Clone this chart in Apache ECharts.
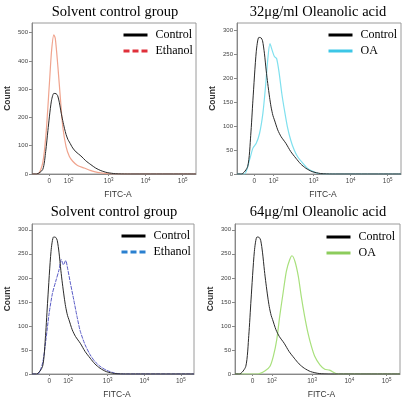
<!DOCTYPE html>
<html><head><meta charset="utf-8">
<script src="https://cdn.jsdelivr.net/npm/echarts@6/dist/echarts.min.js"></script>
<style>html,body{margin:0;padding:0;background:#fff}#c{width:411px;height:405px}</style>
</head><body><div id="c"></div>
<script>
const titles = ['Solvent control group', '32\u03bcg/ml Oleanolic acid', 'Solvent control group', '64\u03bcg/ml Oleanolic acid'];
const xTickPos = [1.40, 1.92, 3, 4, 5];
const xTickLabels = ['0', '10{s|2}', '10{s|3}', '10{s|4}', '10{s|5}'];
const yTicks500 = [0, 100, 200, 300, 400, 500];
const yTicks300 = [0, 50, 100, 150, 200, 250, 300];
const yMax = [534, 315, 312, 312];

const control = [[0.93,0],[1.05,0],[1.22,16],[1.30,80],[1.36,154],[1.45,255],[1.52,285],[1.58,284],[1.62,278],[1.67,252],[1.72,215],[1.76,189],[1.81,160],[1.85,140],[1.90,122],[1.94,113],[2.03,92],[2.12,78],[2.25,64],[2.38,47],[2.52,33],[2.65,21],[2.79,12],[2.96,5],[3.19,1],[3.50,0],[5.36,0]];
const ethanolRed = [[0.93,0],[1.09,0],[1.22,39],[1.31,144],[1.40,320],[1.46,438],[1.52,492],[1.56,479],[1.63,379],[1.70,262],[1.76,168],[1.85,97],[1.94,62],[2.03,45],[2.16,30],[2.34,21],[2.52,12],[2.70,6],[2.96,1],[3.14,0],[5.36,0]];
const oa32 = [[0.93,0],[1.13,0],[1.27,30],[1.36,54],[1.45,64],[1.54,85],[1.63,127],[1.70,182],[1.76,238],[1.82,272],[1.88,258],[1.94,245],[2.00,241],[2.07,210],[2.14,168],[2.21,134],[2.29,99],[2.38,71],[2.47,51],[2.56,37],[2.70,23],[2.83,12],[2.96,6],[3.14,1],[3.32,0],[5.36,0]];
const ethanolBlue = [[0.93,0],[1.09,0],[1.22,23],[1.31,71],[1.40,127],[1.49,168],[1.58,193],[1.67,217],[1.73,238],[1.79,227],[1.85,236],[1.91,217],[1.98,189],[2.07,155],[2.16,120],[2.25,89],[2.38,61],[2.52,40],[2.65,26],[2.79,16],[2.96,8],[3.19,2],[3.37,0],[5.36,0]];
const oa64 = [[0.93,0],[1.55,0],[1.73,6],[1.87,16],[1.96,37],[2.05,71],[2.13,120],[2.22,168],[2.31,214],[2.40,238],[2.46,246],[2.54,234],[2.63,203],[2.71,161],[2.80,120],[2.89,85],[2.98,58],[3.07,37],[3.21,19],[3.34,10],[3.47,8],[3.61,2],[3.70,0],[5.36,0]];

const grids = [
  {left: 32, top: 23, width: 164, height: 151},
  {left: 237, top: 23, width: 164, height: 151},
  {left: 32, top: 224, width: 162, height: 150},
  {left: 235, top: 224, width: 165, height: 150}
];
const titleX = [115, 318, 114, 318];
const titleY = [5, 5, 205, 205];
const legendPos = [[122, 29], [327, 29], [120, 230], [325, 231]];

const panels = [
  {second: 'Ethanol', data: ethanolRed, curve: {color: '#f0a48e', width: 1.2}, legend: {color: '#e0303a', width: 3, type: [6, 3]}},
  {second: 'OA', data: oa32, curve: {color: '#7fe0ee', width: 1.2}, legend: {color: '#3cc6e6', width: 3, type: 'solid'}},
  {second: 'Ethanol', data: ethanolBlue, curve: {color: '#5a5cc6', width: 1, type: [4, 1]}, legend: {color: '#2a80d0', width: 3, type: [6, 3]}},
  {second: 'OA', data: oa64, curve: {color: '#a8e07c', width: 1.2}, legend: {color: '#8ccc5c', width: 3, type: 'solid'}}
];

const serif = 'Liberation Serif';
const sans = 'Liberation Sans';
const hidden = {color: 'rgba(0,0,0,0)', borderWidth: 0, borderColor: 'rgba(0,0,0,0)'};
const option = {
  backgroundColor: '#fff',
  animation: false,
  title: titles.map((t, i) => ({
    text: t, left: titleX[i], top: titleY[i], textAlign: 'center', padding: 0,
    textStyle: {fontFamily: serif, fontWeight: 'normal', fontSize: 14.5, color: '#000'}
  })),
  grid: grids.map(g => Object.assign({show: true, borderColor: '#9a9a9a', borderWidth: 1, containLabel: false}, g)),
  xAxis: grids.map((g, i) => ({
    type: 'value', gridIndex: i, min: 0.93, max: 5.36,
    name: 'FITC-A', nameLocation: 'middle', nameGap: 16,
    nameTextStyle: {fontFamily: sans, fontSize: 8.5, color: '#333', padding: [0, 0, 0, 8]},
    axisLine: {show: true, lineStyle: {color: '#888', width: 1}},
    axisTick: {show: true, length: 2, lineStyle: {color: '#888'}, customValues: xTickPos},
    axisLabel: {customValues: xTickPos,
      formatter: v => { const k = xTickPos.findIndex(p => Math.abs(p - v) < 1e-6); return k >= 0 ? xTickLabels[k] : ''; },
      fontFamily: sans, fontSize: 6.5, color: '#444', margin: 3, lineHeight: 9,
      rich: {s: {fontFamily: sans, fontSize: 4.5, color: '#444', verticalAlign: 'top', lineHeight: 9, padding: [0, 0, 3, 0]}}},
    splitLine: {show: false}
  })),
  yAxis: grids.map((g, i) => ({
    type: 'value', gridIndex: i, min: 0, max: yMax[i],
    name: 'Count', nameLocation: 'middle', nameGap: 20,
    nameTextStyle: {fontFamily: sans, fontSize: 8.5, fontWeight: 'bold', color: '#333'},
    axisLine: {show: true, lineStyle: {color: '#888', width: 1}},
    axisTick: {show: true, length: 3, lineStyle: {color: '#888'}, customValues: i === 0 ? yTicks500 : yTicks300},
    axisLabel: {customValues: i === 0 ? yTicks500 : yTicks300, fontFamily: sans, fontSize: 6, color: '#444', margin: 4},
    splitLine: {show: false}
  })),
  legend: panels.map((p, i) => ({
    orient: 'vertical', left: legendPos[i][0], top: legendPos[i][1], padding: 0,
    itemWidth: 24, itemHeight: 12, itemGap: 4, selectedMode: false,
    textStyle: {fontFamily: serif, fontSize: 12, color: '#000', padding: [0, 0, 0, 3]},
    data: [
      {name: 'Control', lineStyle: {color: '#000', width: 3, type: 'solid'}, itemStyle: hidden},
      {name: p.second, lineStyle: p.legend, itemStyle: hidden}
    ]
  })),
  series: []
};
panels.forEach((p, i) => {
  option.series.push({
    name: p.second, type: 'line', xAxisIndex: i, yAxisIndex: i, data: p.data,
    symbol: 'none', smooth: 0.25, lineStyle: Object.assign({}, p.curve), itemStyle: {color: p.legend.color}, z: 2
  });
  option.series.push({
    name: 'Control', type: 'line', xAxisIndex: i, yAxisIndex: i, data: control,
    symbol: 'none', smooth: 0.25, lineStyle: {color: '#2a2a2a', width: 1}, itemStyle: {color: '#000'}, z: 3
  });
});
const chart = echarts.init(document.getElementById('c'), null, {renderer: 'canvas'});
chart.setOption(option);
</script></body></html>
